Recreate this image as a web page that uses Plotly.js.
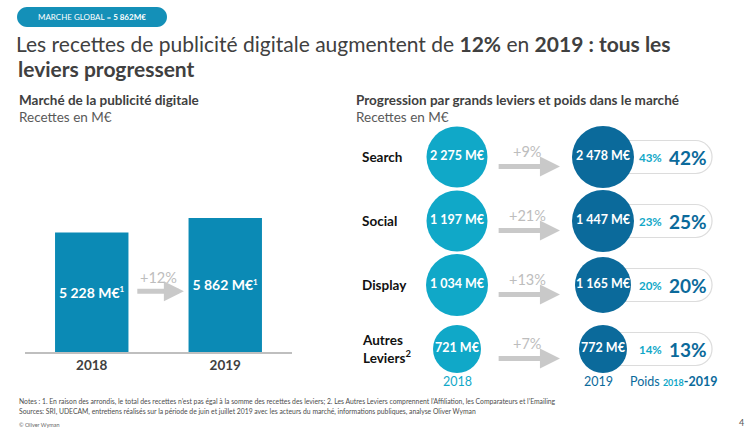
<!DOCTYPE html>
<html>
<head>
<meta charset="utf-8">
<script src="https://cdn.plot.ly/plotly-3.0.1.min.js"></script>
<style>html,body{margin:0;padding:0;background:#fff;}#chart{width:750px;height:444px;}</style>
</head>
<body>
<div id="chart"></div>
<script>
// ---------- data ----------
const years = ['2018', '2019'];
const marketTotals = [5228, 5862];
const marketGrowth = '+12%';
const levers = ['Search', 'Social', 'Display', 'Autres Leviers'];
const leverLabels = ['Search', 'Social', 'Display', 'Autres<br>Leviers<sup>2</sup>'];
const rev2018 = [2275, 1197, 1034, 721];
const rev2019 = [2478, 1447, 1165, 772];
const leverGrowth = ['+9%', '+21%', '+13%', '+7%'];
const share2018 = [43, 23, 20, 14];
const share2019 = [42, 25, 20, 13];

// ---------- style ----------
const W = 750, H = 444;
const FONT = 'Lato, "Open Sans", sans-serif';
const C_DARK = '#404040';
const C_BAR = '#0b8ab5';
const C_2018 = '#10a8c8';
const C_2019 = '#0b6a9b';
const C_ARROW = '#c9c9c9';
const size2018 = [61, 61, 62, 48];
const size2019 = [62, 62, 56, 48];

const px = x => x / W;
const py = y => 1 - y / H;
const fmt = v => v >= 1000 ? Math.floor(v / 1000) + ' ' + String(v % 1000).padStart(3, '0') : String(v);

const traces = [
  {
    type: 'bar', x: years, y: marketTotals, xaxis: 'x', yaxis: 'y',
    width: 0.55, marker: {color: C_BAR},
    text: marketTotals.map(v => '<b>' + fmt(v) + ' M€<sup><span style="font-size:8px">1</span></sup></b>'),
    textposition: 'inside', insidetextanchor: 'middle', constraintext: 'none', textangle: 0,
    textfont: {family: FONT, size: 14, color: '#ffffff'},
    hoverinfo: 'none'
  },
  {
    type: 'scatter', mode: 'markers+text', xaxis: 'x2', yaxis: 'y2',
    x: levers.map(() => years[0]), y: levers,
    marker: {size: size2018, color: C_2018, opacity: 1, line: {width: 0}},
    text: rev2018.map(v => '<b>' + fmt(v) + ' M€</b>'),
    textposition: 'middle center', cliponaxis: false,
    textfont: {family: FONT, size: 12.5, color: '#ffffff'},
    hoverinfo: 'none'
  },
  {
    type: 'scatter', mode: 'markers+text', xaxis: 'x2', yaxis: 'y2',
    x: levers.map(() => years[1]), y: levers,
    marker: {size: size2019, color: C_2019, opacity: 1, line: {width: 0}},
    text: rev2019.map(v => '<b>' + fmt(v) + ' M€</b>'),
    textposition: 'middle center', cliponaxis: false,
    textfont: {family: FONT, size: 12.5, color: '#ffffff'},
    hoverinfo: 'none'
  }
];

const annotations = [];
const shapes = [];

// title line 2
annotations.push({xref: 'paper', yref: 'paper', x: px(16), y: py(68), xanchor: 'left', yanchor: 'middle',
  text: '<b>leviers progressent</b>', showarrow: false, font: {family: FONT, size: 21, color: C_DARK}});

// badge
(function () {
  const x0 = px(17), x1 = px(167), y0 = py(27), y1 = py(7), rx = 10 / W, ry = 10 / H, k = 0.5523;
  shapes.push({type: 'path', xref: 'paper', yref: 'paper', fillcolor: '#1490b8', line: {width: 0},
    path: `M ${x0 + rx},${y1} L ${x1 - rx},${y1} C ${x1 - rx + k * rx},${y1} ${x1},${y1 - ry + k * ry} ${x1},${y1 - ry} ` +
      `C ${x1},${y0 + ry - k * ry} ${x1 - rx + k * rx},${y0} ${x1 - rx},${y0} L ${x0 + rx},${y0} ` +
      `C ${x0 + rx - k * rx},${y0} ${x0},${y0 + ry - k * ry} ${x0},${y0 + ry} ` +
      `C ${x0},${y1 - ry + k * ry} ${x0 + rx - k * rx},${y1} ${x0 + rx},${y1} Z`});
  annotations.push({xref: 'paper', yref: 'paper', x: px(92), y: py(17), xanchor: 'center', yanchor: 'middle',
    text: 'MARCHE GLOBAL = <b>' + fmt(marketTotals[1]) + 'M€</b>', showarrow: false,
    font: {family: FONT, size: 8, color: '#ffffff'}});
})();

// subtitles
[[17, 'Marché de la publicité digitale'], [354, 'Progression par grands leviers et poids dans le marché']].forEach(([x, t]) => {
  annotations.push({xref: 'paper', yref: 'paper', x: px(x), y: py(100), xanchor: 'left', yanchor: 'middle',
    text: '<b>' + t + '</b>', showarrow: false, font: {family: FONT, size: 13.5, color: C_DARK}});
  annotations.push({xref: 'paper', yref: 'paper', x: px(x), y: py(116.5), xanchor: 'left', yanchor: 'middle',
    text: 'Recettes en M€', showarrow: false, font: {family: FONT, size: 13.5, color: '#595959'}});
});

// bar chart growth arrow
annotations.push({xref: 'x', yref: 'y', axref: 'x', ayref: 'y', x: 0.69, y: 2660, ax: 0.33, ay: 2660,
  text: '', showarrow: true, arrowhead: 2, arrowwidth: 5, arrowsize: 0.8, arrowcolor: C_ARROW});
annotations.push({xref: 'x', yref: 'y', x: 0.5, y: 3240, text: marketGrowth, showarrow: false,
  font: {family: FONT, size: 14.5, color: '#bdbdbd'}});

// right panel
levers.forEach((lv, i) => {
  annotations.push({xref: 'paper', yref: 'y2', x: px(360), y: i, xanchor: 'left', yanchor: 'middle', align: 'left',
    text: '<b>' + leverLabels[i] + '</b>', showarrow: false, font: {family: FONT, size: 13.5, color: '#111111'}});
  annotations.push({xref: 'x2', yref: 'y2', axref: 'x2', ayref: 'y2', x: 0.705, y: i + 0.15, ax: 0.275, ay: i + 0.15,
    text: '', showarrow: true, arrowhead: 2, arrowwidth: 5, arrowsize: 0.8, arrowcolor: C_ARROW});
  annotations.push({xref: 'x2', yref: 'y2', x: 0.48, y: i - 0.08, text: leverGrowth[i], showarrow: false,
    font: {family: FONT, size: 14.5, color: '#bdbdbd'}});
  // pill
  const x0 = 1.0, x1 = 1.747, rx = 16.5 / 146, ry = 16.5 / 64, k = 0.5523;
  const yt = i - ry, yb = i + ry;
  shapes.push({type: 'path', xref: 'x2', yref: 'y2', layer: 'below', fillcolor: '#ffffff',
    line: {color: '#dcdcdc', width: 1.2},
    path: `M ${x0},${yt} L ${x1 - rx},${yt} C ${x1 - rx + k * rx},${yt} ${x1},${i - k * ry} ${x1},${i} ` +
      `C ${x1},${i + k * ry} ${x1 - rx + k * rx},${yb} ${x1 - rx},${yb} L ${x0},${yb} Z`});
  annotations.push({xref: 'x2', yref: 'y2', x: 1.322, y: i, text: '<b>' + share2018[i] + '%</b>', showarrow: false,
    font: {family: FONT, size: 11.5, color: C_2018}});
  annotations.push({xref: 'x2', yref: 'y2', x: 1.585, y: i, text: '<b>' + share2019[i] + '%</b>', showarrow: false,
    font: {family: FONT, size: 19, color: C_2019}});
});
annotations.push({xref: 'x2', yref: 'y2', x: 0, y: 3.5, text: years[0], showarrow: false,
  font: {family: FONT, size: 12.5, color: C_2018}});
annotations.push({xref: 'x2', yref: 'y2', x: 0.97, y: 3.5, text: years[1], showarrow: false,
  font: {family: FONT, size: 12.5, color: C_2019}});
annotations.push({xref: 'x2', yref: 'y2', x: 1.48, y: 3.5, showarrow: false,
  text: 'Poids <span style="font-size:9px;color:' + C_2018 + '"><b>' + years[0] + '</b></span><b>-' + years[1] + '</b>',
  font: {family: FONT, size: 12.5, color: C_2019}});

// footnotes
const NOTE_FONT = '"Liberation Sans Narrow", "Arial Narrow", Lato, sans-serif';
annotations.push({xref: 'paper', yref: 'paper', x: px(17), y: py(401), xanchor: 'left', yanchor: 'middle', showarrow: false,
  text: 'Notes : 1. En raison des arrondis, le total des recettes n’est pas égal à la somme des recettes des leviers; 2. Les Autres Leviers comprennent l’Affiliation, les Comparateurs et l’Emailing',
  font: {family: NOTE_FONT, size: 6.8, color: '#4d4d4d'}});
annotations.push({xref: 'paper', yref: 'paper', x: px(17), y: py(411), xanchor: 'left', yanchor: 'middle', showarrow: false,
  text: 'Sources: SRI, UDECAM, entretiens réalisés sur la période de juin et juillet 2019 avec les acteurs du marché, informations publiques, analyse Oliver Wyman',
  font: {family: NOTE_FONT, size: 6.8, color: '#4d4d4d'}});
annotations.push({xref: 'paper', yref: 'paper', x: px(17), y: py(425), xanchor: 'left', yanchor: 'middle', showarrow: false,
  text: '© Oliver Wyman', font: {family: NOTE_FONT, size: 5.5, color: '#666666'}});
annotations.push({xref: 'paper', yref: 'paper', x: px(746), y: py(422), xanchor: 'right', yanchor: 'middle', showarrow: false,
  text: '4', font: {family: FONT, size: 9, color: '#555555'}});

const layout = {
  width: W, height: H, margin: {l: 0, r: 0, t: 0, b: 0},
  paper_bgcolor: '#ffffff', plot_bgcolor: 'rgba(0,0,0,0)',
  showlegend: false, hovermode: false,
  title: {text: 'Les recettes de publicité digitale augmentent de <b>12%</b> en <b>2019 : tous les</b>',
    x: px(16), xanchor: 'left', xref: 'paper', y: py(45), yref: 'paper', yanchor: 'middle',
    font: {family: FONT, size: 21, color: C_DARK}},
  xaxis: {domain: [px(25), px(292)], type: 'category', range: [-0.5, 1.5], anchor: 'y',
    showline: true, linecolor: '#bfbfbf', linewidth: 1.5, ticks: '', showgrid: false, zeroline: false,
    tickvals: years, ticktext: years.map(y => '<b>' + y + '</b>'),
    tickfont: {family: FONT, size: 13.5, color: C_DARK}, fixedrange: true},
  yaxis: {domain: [py(352), py(214.8)], range: [0, 6000], visible: false, anchor: 'x', fixedrange: true},
  xaxis2: {domain: [px(384), 1], type: 'category', categoryarray: years, range: [-0.5, 2.007], anchor: 'y2',
    visible: false, fixedrange: true},
  yaxis2: {domain: [py(381), py(125)], type: 'category', categoryarray: levers, range: [3.5, -0.5], anchor: 'x2',
    visible: false, fixedrange: true},
  annotations: annotations,
  shapes: shapes
};

Plotly.newPlot('chart', traces, layout, {displayModeBar: false, staticPlot: true});
</script>
</body>
</html>
